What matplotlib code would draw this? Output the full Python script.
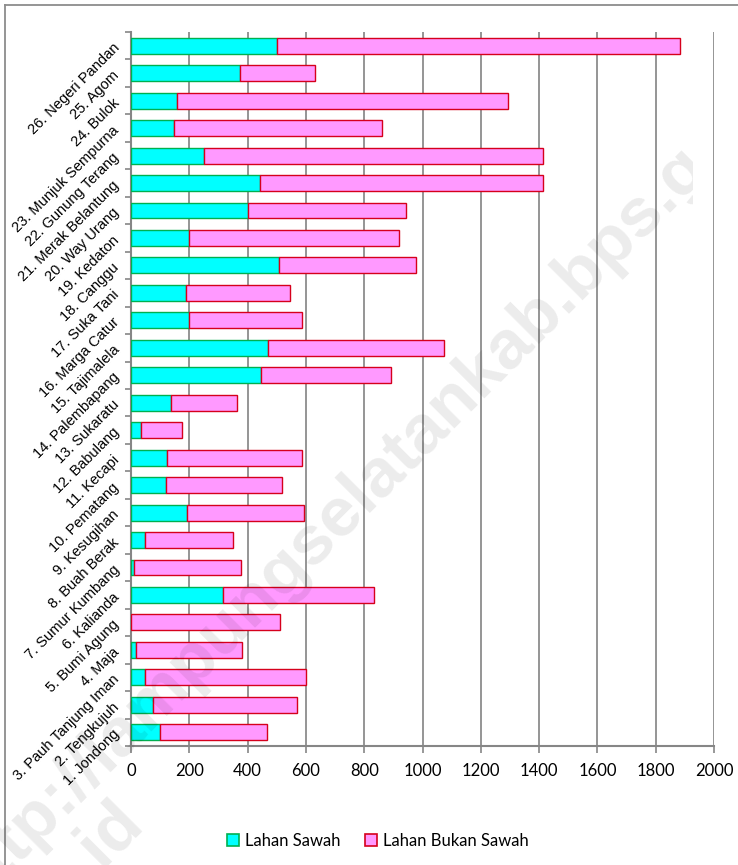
import matplotlib
matplotlib.use("Agg")
import matplotlib.pyplot as plt
from matplotlib.lines import Line2D
from matplotlib.patches import Patch
from matplotlib.transforms import Bbox, TransformedBbox
import numpy as np

# data (bottom to top)
desa = ["1. Jondong", "2. Tengkujuh", "3. Pauh Tanjung Iman", "4. Maja",
        "5. Bumi Agung", "6. Kalianda", "7. Sumur Kumbang", "8. Buah Berak",
        "9. Kesugihan", "10. Pematang", "11. Kecapi", "12. Babulang",
        "13. Sukaratu", "14. Palembapang", "15. Tajimalela", "16. Marga Catur",
        "17. Suka Tani", "18. Canggu", "19. Kedaton", "20. Way Urang",
        "21. Merak Belantung", "22. Gunung Terang", "23. Munjuk Sempurna",
        "24. Bulok", "25. Agom", "26. Negeri Pandan"]
lahan_sawah = [99, 74, 49, 16, 0, 314, 10, 49, 193, 121, 125, 34, 136,
               447, 470, 200, 189, 508, 200, 400, 442, 250, 147, 159, 375, 502]
lahan_bukan_sawah = [368, 497, 552, 366, 512, 518, 369, 302, 402, 397, 463, 141, 226,
                     446, 605, 388, 357, 468, 720, 543, 970, 1162, 715, 1136, 257, 1381]
x_ticks = [0, 200, 400, 600, 800, 1000, 1200, 1400, 1600, 1800, 2000]

W, H = 738, 865
fig = plt.figure(figsize=(W / 100, H / 100), dpi=100)
ax = fig.add_axes([131 / W, 1 - 746 / H, (714 - 131) / W, (746 - 32) / H])

pos = np.arange(len(desa))
ax.barh(pos, lahan_sawah, height=0.58, color="#00FFFF", edgecolor="#00B050",
        linewidth=1.0, label="Lahan Sawah", zorder=3)
ax.barh(pos, lahan_bukan_sawah, left=lahan_sawah, height=0.58, color="#FF99FF",
        edgecolor="#D6001C", linewidth=1.0, label="Lahan Bukan Sawah", zorder=3)

ax.set_xlim(0, 2000)
ax.set_ylim(-0.5, len(desa) - 0.5)
ax.set_xticks(x_ticks)
ax.set_xticklabels([str(v) for v in x_ticks], fontsize=12, family="Lato")
ax.xaxis.grid(True, color="#8c8c8c", linewidth=1.3, zorder=0)

ax.set_yticks(np.arange(-0.5, len(desa), 1.0))
ax.set_yticklabels([])
ax.set_yticks(pos, minor=True)
ax.set_yticklabels(desa, minor=True, rotation=45, ha="right", va="center",
                   rotation_mode="anchor", fontsize=10.5, family="Liberation Sans")
ax.tick_params(axis="y", which="major", length=4, width=1.2, color="#868686")
ax.tick_params(axis="y", which="minor", length=0, pad=10)
ax.tick_params(axis="x", length=5, width=1.2, color="#868686", pad=7)

for s in ["top", "right"]:
    ax.spines[s].set_visible(False)
for s in ["left", "bottom"]:
    ax.spines[s].set_color("#868686")
    ax.spines[s].set_linewidth(1.5)

# chart area border (cut by the image edge on the right and bottom)
fig.add_artist(Line2D([5 / W, 1], [1 - 5 / H, 1 - 5 / H], color="#8c8c8c", lw=1.3))
fig.add_artist(Line2D([5 / W, 5 / W], [0, 1 - 5 / H], color="#8c8c8c", lw=1.3))

handles = [Patch(facecolor="#00FFFF", edgecolor="#00B050", linewidth=1.2),
           Patch(facecolor="#FF99FF", edgecolor="#D6001C", linewidth=1.2)]
fig.legend(handles, ["Lahan Sawah", "Lahan Bukan Sawah"], loc="center",
           bbox_to_anchor=(0.512, 0.028), ncol=2, frameon=False,
           prop={"family": "Lato", "size": 12}, handlelength=0.7, handleheight=0.7,
           handletextpad=0.35, columnspacing=1.5)

# watermark (the reference cuts it off just after "bps.g")
wm = "http://lampungselatankab.bps.go.id"
clip = TransformedBbox(Bbox([[0, 0], [693 / W, 1]]), fig.transFigure)
t1 = fig.text(371 / W, 1 - 482 / H, wm, rotation=45, ha="center", va="center",
              rotation_mode="anchor", fontsize=50, fontweight="bold",
              family="Liberation Sans", color="black", alpha=0.08, zorder=10)
t1.set_clip_box(clip)
t1.set_clip_on(True)
fig.text(132 / W, 1 - 812 / H, wm, rotation=45, ha="right", va="center",
         rotation_mode="anchor", fontsize=50, fontweight="bold",
         family="Liberation Sans", color="black", alpha=0.08, zorder=10)

fig.savefig("out.png", dpi=100)
